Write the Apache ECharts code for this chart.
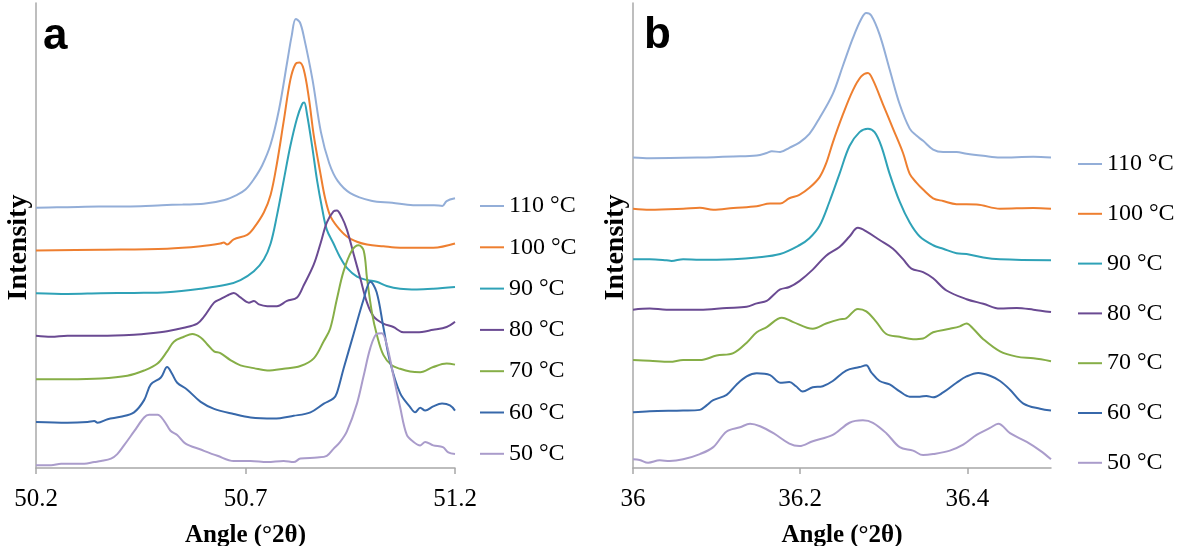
<!DOCTYPE html>
<html>
<head>
<meta charset="utf-8">
<script src="https://cdn.jsdelivr.net/npm/echarts@6/dist/echarts.min.js"></script>
<style>html,body{margin:0;padding:0;background:#fff;}#c{width:1184px;height:546px;}</style>
</head>
<body>
<div id="c"></div>
<script>
const names = ['110 °C','100 °C','90 °C','80 °C','70 °C','60 °C','50 °C'];
const colors = ['#93AED8','#EE7F30','#2FA2B7','#6A4A92','#86AE47','#3768AA','#AA9CCB'];
const ticksA = [50.2, 50.7, 51.2];
const ticksB = [36, 36.2, 36.4];

const a110 = [[50.2,748],[50.25,749],[50.3,750],[50.35,751],[50.4,751],[50.45,752],[50.5,755],[50.55,757],[50.6,759],[50.65,770],[50.68,785],[50.7,800],[50.72,830],[50.74,870],[50.76,930],[50.78,1030],[50.8,1170],[50.81,1240],[50.82,1290],[50.83,1280],[50.84,1235],[50.86,1115],[50.88,965],[50.9,875],[50.92,825],[50.95,790],[51.0,768],[51.05,762],[51.1,755],[51.15,755],[51.17,753],[51.18,767],[51.2,775]];
const a100 = [[50.2,625],[50.355,627],[50.513,630],[50.593,637],[50.64,645],[50.648,648],[50.656,642],[50.672,657],[50.704,670],[50.72,690],[50.744,735],[50.76,785],[50.775,875],[50.791,995],[50.807,1115],[50.819,1160],[50.829,1165],[50.839,1145],[50.851,1065],[50.863,955],[50.879,845],[50.89,775],[50.902,725],[50.918,695],[50.942,665],[50.966,650],[50.99,642],[51.029,637],[51.069,633],[51.148,633],[51.2,645]];
const a90 = [[50.2,502],[50.275,500],[50.355,502],[50.434,503],[50.513,505],[50.593,515],[50.656,527],[50.688,540],[50.72,565],[50.744,600],[50.76,645],[50.775,725],[50.791,825],[50.807,925],[50.823,1005],[50.835,1045],[50.84,1050],[50.847,1015],[50.859,925],[50.871,825],[50.883,745],[50.894,685],[50.91,645],[50.926,605],[50.942,575],[50.966,550],[50.99,540],[51.013,535],[51.037,523],[51.069,515],[51.109,513],[51.148,515],[51.2,520]];
const a80 = [[50.2,380],[50.236,377],[50.275,380],[50.355,380],[50.434,383],[50.474,387],[50.513,393],[50.553,403],[50.585,415],[50.601,435],[50.625,475],[50.64,485],[50.656,495],[50.672,503],[50.688,490],[50.708,475],[50.72,480],[50.732,470],[50.752,465],[50.775,465],[50.799,480],[50.823,490],[50.839,525],[50.863,585],[50.879,645],[50.894,705],[50.91,737],[50.918,740],[50.93,720],[50.942,685],[50.958,615],[50.974,545],[50.99,475],[51.006,435],[51.029,415],[51.053,405],[51.077,390],[51.109,390],[51.148,397],[51.18,405],[51.2,420]];
const a70 = [[50.2,255],[50.275,255],[50.355,257],[50.418,265],[50.458,280],[50.49,300],[50.513,335],[50.529,363],[50.553,377],[50.573,385],[50.593,375],[50.609,355],[50.625,335],[50.64,330],[50.664,310],[50.688,295],[50.72,287],[50.752,280],[50.791,285],[50.831,293],[50.863,315],[50.887,365],[50.902,400],[50.918,485],[50.934,565],[50.954,625],[50.97,640],[50.982,625],[50.99,545],[51.002,445],[51.013,385],[51.029,325],[51.049,295],[51.069,285],[51.093,277],[51.117,275],[51.148,290],[51.18,300],[51.2,297]];
const a60 = [[50.2,132],[50.275,130],[50.323,132],[50.339,135],[50.347,130],[50.371,140],[50.402,147],[50.434,160],[50.458,195],[50.474,240],[50.498,260],[50.513,290],[50.525,270],[50.537,245],[50.561,225],[50.593,190],[50.625,170],[50.672,155],[50.712,145],[50.767,142],[50.815,150],[50.855,160],[50.887,185],[50.91,200],[50.918,215],[50.934,285],[50.958,385],[50.982,485],[50.998,535],[51.013,505],[51.029,405],[51.045,305],[51.069,215],[51.093,175],[51.105,160],[51.117,173],[51.129,165],[51.148,177],[51.169,185],[51.188,180],[51.2,165]];
const a50 = [[50.2,8],[50.236,8],[50.26,12],[50.315,12],[50.339,17],[50.355,20],[50.379,27],[50.394,40],[50.41,65],[50.434,105],[50.458,145],[50.47,153],[50.49,153],[50.506,135],[50.521,107],[50.537,95],[50.557,70],[50.593,53],[50.633,35],[50.672,20],[50.712,20],[50.752,17],[50.791,20],[50.815,17],[50.831,27],[50.871,30],[50.894,35],[50.91,55],[50.926,75],[50.942,105],[50.966,185],[50.982,265],[50.998,345],[51.013,385],[51.025,387],[51.037,355],[51.053,265],[51.069,175],[51.085,95],[51.101,75],[51.117,65],[51.129,75],[51.148,65],[51.171,60],[51.184,45],[51.2,40]];

const b110 = [[36,892],[36.02,890],[36.08,892],[36.12,895],[36.148,898],[36.16,905],[36.166,910],[36.176,908],[36.187,920],[36.199,935],[36.211,960],[36.223,1005],[36.239,1075],[36.251,1155],[36.263,1235],[36.273,1290],[36.279,1307],[36.285,1300],[36.295,1245],[36.307,1145],[36.319,1045],[36.331,975],[36.339,955],[36.347,940],[36.359,915],[36.371,908],[36.387,908],[36.399,903],[36.419,897],[36.439,892],[36.479,894],[36.5,892]];
const b100 = [[36,745],[36.02,742],[36.06,745],[36.08,748],[36.096,742],[36.12,747],[36.148,752],[36.164,760],[36.176,760],[36.187,775],[36.199,785],[36.211,805],[36.223,835],[36.231,875],[36.239,935],[36.251,1015],[36.263,1085],[36.273,1125],[36.281,1135],[36.287,1115],[36.299,1045],[36.311,975],[36.323,905],[36.331,845],[36.339,820],[36.347,800],[36.359,775],[36.371,767],[36.387,758],[36.411,757],[36.439,745],[36.479,747],[36.5,745]];
const b90 = [[36,600],[36.02,600],[36.04,597],[36.046,595],[36.06,600],[36.08,598],[36.12,600],[36.148,605],[36.176,615],[36.199,640],[36.211,660],[36.223,695],[36.235,765],[36.247,845],[36.259,925],[36.271,965],[36.281,975],[36.289,965],[36.297,925],[36.307,845],[36.319,765],[36.331,705],[36.343,665],[36.359,640],[36.371,630],[36.387,617],[36.399,615],[36.419,605],[36.439,600],[36.5,597]];
const b80 = [[36,455],[36.02,458],[36.04,455],[36.08,455],[36.112,460],[36.136,463],[36.148,473],[36.16,480],[36.168,497],[36.176,513],[36.187,520],[36.199,537],[36.215,570],[36.231,610],[36.247,635],[36.259,665],[36.269,690],[36.279,680],[36.295,655],[36.311,630],[36.323,600],[36.333,573],[36.347,563],[36.359,545],[36.375,510],[36.399,485],[36.419,472],[36.439,458],[36.459,460],[36.479,455],[36.5,448]];
const b70 = [[36,310],[36.02,308],[36.044,305],[36.06,310],[36.08,310],[36.1,323],[36.12,330],[36.136,360],[36.148,390],[36.16,405],[36.178,432],[36.191,420],[36.215,400],[36.231,415],[36.247,427],[36.255,430],[36.269,457],[36.279,450],[36.291,420],[36.303,385],[36.319,377],[36.335,370],[36.347,372],[36.359,390],[36.379,400],[36.391,407],[36.399,415],[36.407,400],[36.419,370],[36.439,335],[36.459,320],[36.479,315],[36.5,307]];
const b60 = [[36,160],[36.02,163],[36.06,165],[36.08,167],[36.088,180],[36.096,195],[36.112,210],[36.124,240],[36.136,263],[36.148,272],[36.164,267],[36.176,245],[36.187,247],[36.195,235],[36.203,220],[36.215,232],[36.227,235],[36.239,250],[36.255,280],[36.271,290],[36.279,295],[36.285,275],[36.295,250],[36.307,240],[36.319,220],[36.331,205],[36.343,205],[36.351,207],[36.359,203],[36.371,217],[36.387,245],[36.399,263],[36.413,273],[36.427,265],[36.439,250],[36.451,225],[36.467,185],[36.487,170],[36.5,165]];
const b50 = [[36,25],[36.008,23],[36.018,15],[36.032,22],[36.044,20],[36.06,25],[36.08,40],[36.096,60],[36.112,105],[36.128,117],[36.14,127],[36.152,120],[36.168,100],[36.187,70],[36.199,63],[36.215,77],[36.239,95],[36.259,130],[36.275,137],[36.287,130],[36.303,100],[36.319,60],[36.335,50],[36.347,37],[36.359,40],[36.379,50],[36.395,67],[36.411,95],[36.427,115],[36.437,127],[36.451,100],[36.471,75],[36.487,50],[36.5,25]];

const seriesA = [a110, a100, a90, a80, a70, a60, a50];
const seriesB = [b110, b100, b90, b80, b70, b60, b50];

const serif = 'Liberation Serif';
const axisGray = '#A8A8A8';

function xAxis(idx, min, max, ticks) {
  return {
    type: 'value', gridIndex: idx, min: min, max: max,
    name: 'Angle (°2θ)', nameLocation: 'middle', nameGap: 55,
    nameTextStyle: { fontFamily: serif, fontWeight: 'bold', fontSize: 25, color: '#000' },
    axisLine: { show: true, onZero: false, lineStyle: { color: axisGray, width: 1.5 } },
    axisTick: { show: true, length: 6, customValues: ticks, lineStyle: { color: axisGray, width: 1.5 } },
    axisLabel: { customValues: ticks, fontFamily: serif, fontSize: 25, color: '#000', margin: 19 },
    splitLine: { show: false }
  };
}
function yAxis(idx) {
  return {
    type: 'value', gridIndex: idx, min: 0, max: 1336,
    name: 'Intensity', nameLocation: 'middle', nameGap: 3, nameRotate: 90,
    nameTextStyle: { fontFamily: serif, fontWeight: 'bold', fontSize: 28, color: '#000', padding: [0, 24, 0, 0] },
    axisLine: { show: true, lineStyle: { color: axisGray, width: 1.5 } },
    axisTick: { show: false }, axisLabel: { show: false }, splitLine: { show: false }
  };
}

const series = [];
[seriesA, seriesB].forEach(function (set, g) {
  set.forEach(function (d, i) {
    series.push({
      type: 'line', name: names[i], xAxisIndex: g, yAxisIndex: g,
      data: d, smooth: 0.35, showSymbol: false, symbol: 'none',
      lineStyle: { color: colors[i], width: 2 }, itemStyle: { color: colors[i] },
      emphasis: { disabled: true }, z: 2 + i
    });
  });
});

function legend(left, top, gap) {
  return {
    orient: 'vertical', left: left, top: top, data: names, icon: 'rect',
    itemWidth: 24, itemHeight: 2, itemGap: gap, padding: 0, selectedMode: false,
    textStyle: { fontFamily: serif, fontSize: 24, color: '#000', lineHeight: 24 }
  };
}

const chart = echarts.init(document.getElementById('c'), null, { renderer: 'canvas' });
chart.setOption({
  animation: false,
  backgroundColor: '#fff',
  title: [
    { text: 'a', left: 43, top: 15, padding: 0, textStyle: { fontFamily: 'Liberation Sans', fontWeight: 'bold', fontSize: 44, color: '#000' } },
    { text: 'b', left: 644, top: 14, padding: 0, textStyle: { fontFamily: 'Liberation Sans', fontWeight: 'bold', fontSize: 44, color: '#000' } }
  ],
  grid: [
    { left: 36, right: 729, top: 3, bottom: 78, outerBoundsMode: 'none', containLabel: false },
    { left: 633, right: 133, top: 3, bottom: 78, outerBoundsMode: 'none', containLabel: false }
  ],
  xAxis: [xAxis(0, 50.2, 51.2, ticksA), xAxis(1, 36, 36.5, ticksB)],
  yAxis: [yAxis(0), yAxis(1)],
  legend: [legend(480, 194, 17.3), legend(1078, 152, 25.8)],
  series: series
});
</script>
</body>
</html>
